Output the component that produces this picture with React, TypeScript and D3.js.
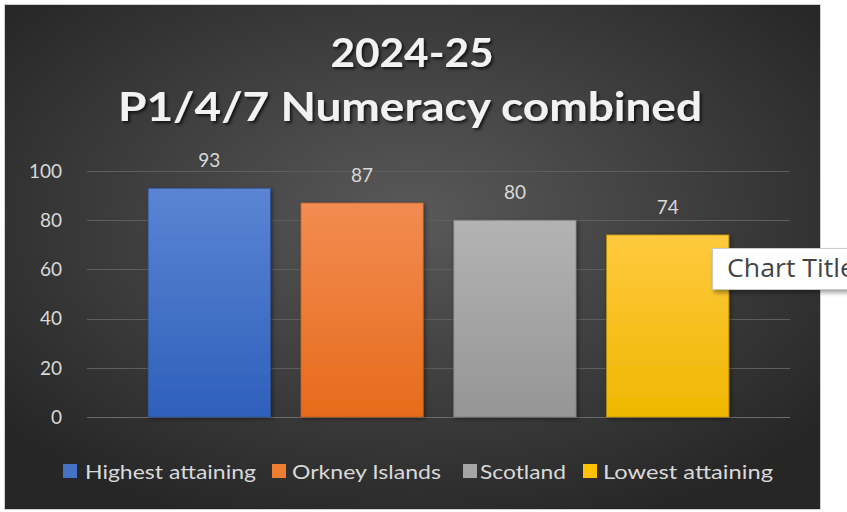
import React from 'react';
import * as d3 from 'd3';

// Chart data
const categories = ['Highest attaining', 'Orkney Islands', 'Scotland', 'Lowest attaining'];
const values = [93, 87, 80, 74];
const yTicks = [0, 20, 40, 60, 80, 100];
const titleLines = ['2024-25', 'P1/4/7 Numeracy combined'];

const W = 847;
const H = 512;

// series colours: legend swatch, gradient top, gradient bottom
const swatch = ['#4472c4', '#ed7d31', '#a5a5a5', '#ffc000'];
const gradTop = ['#5b84d3', '#f28c52', '#b3b3b3', '#ffc93f'];
const gradBottom = ['#2e60bb', '#e76b1b', '#959595', '#efb700'];
const strokeCol = ['#2c5295', '#b85f22', '#7c7c7c', '#bf9000'];

const App: React.FC = () => {
  const x = d3.scaleBand<string>()
    .domain(categories)
    .range([87, 790])
    .paddingInner(0.2)
    .paddingOuter(0.4);

  const y = d3.scaleLinear().domain([0, 100]).range([417, 171]);

  const font = 'Lato, "Open Sans", sans-serif';
  // legend layout
  const legendX = [63, 272, 463, 583];
  const legendTextX = [85, 292, 480, 603];
  const legendW = [171, 149, 86, 170];

  return (
    <svg width={W} height={H} style={{ position: 'absolute', left: 0, top: 0, background: '#fff' }}>
      <defs>
        <radialGradient id="bg" cx="50%" cy="42%" r="65%">
          <stop offset="0%" stopColor="#595959" />
          <stop offset="100%" stopColor="#262626" />
        </radialGradient>
        {categories.map((c, i) => (
          <linearGradient key={c} id={`bar${i}`} x1="0" y1="0" x2="0" y2="1">
            <stop offset="0%" stopColor={gradTop[i]} />
            <stop offset="100%" stopColor={gradBottom[i]} />
          </linearGradient>
        ))}
        <filter id="tshadow" x="-10%" y="-30%" width="120%" height="160%">
          <feDropShadow dx="2" dy="2" stdDeviation="1.5" floodColor="#000" floodOpacity="0.7" />
        </filter>
        <filter id="bshadow" x="-10%" y="-10%" width="130%" height="130%">
          <feDropShadow dx="1.5" dy="1.5" stdDeviation="2" floodColor="#000" floodOpacity="0.45" />
        </filter>
        <filter id="tipshadow" x="-10%" y="-20%" width="130%" height="160%">
          <feDropShadow dx="2" dy="3" stdDeviation="2" floodColor="#000" floodOpacity="0.35" />
        </filter>
      </defs>

      {/* chart area */}
      <rect x={4.5} y={4.5} width={816} height={505} fill="url(#bg)" stroke="#d0d0d0" strokeWidth={1} />

      {/* title */}
      <g fill="#f2f2f2" fontFamily={font} fontWeight={700} textAnchor="middle" filter="url(#tshadow)">
        <text x={412} y={67} fontSize={40} textLength={163} lengthAdjust="spacingAndGlyphs">{titleLines[0]}</text>
        <text x={410} y={121} fontSize={40} textLength={584} lengthAdjust="spacingAndGlyphs">{titleLines[1]}</text>
      </g>

      {/* gridlines */}
      {yTicks.map(t => (
        <line key={t} x1={87} x2={790} y1={Math.round(y(t)) + 0.5} y2={Math.round(y(t)) + 0.5}
          stroke={t === 0 ? '#6a6a6a' : '#5e5e5e'} strokeWidth={1} />
      ))}

      {/* y tick labels */}
      {yTicks.map(t => (
        <text key={t} x={62} y={y(t)} dy="0.36em" textAnchor="end" fontFamily={font}
          fontSize={19} fill="#d9d9d9">{t}</text>
      ))}

      {/* bars */}
      {categories.map((c, i) => (
        <rect key={c} x={x(c)} y={y(values[i])} width={x.bandwidth()} height={y(0) - y(values[i])}
          fill={`url(#bar${i})`} stroke={strokeCol[i]} strokeWidth={0.75} filter="url(#bshadow)" />
      ))}

      {/* data labels */}
      {categories.map((c, i) => (
        <text key={c} x={(x(c) ?? 0) + x.bandwidth() / 2} y={y(values[i]) - 21} textAnchor="middle"
          fontFamily={font} fontSize={19} fill="#d9d9d9">{values[i]}</text>
      ))}

      {/* legend */}
      {categories.map((c, i) => (
        <g key={c}>
          <rect x={legendX[i]} y={464} width={14} height={14} fill={swatch[i]} />
          <text x={legendTextX[i]} y={479} fontFamily={font} fontSize={19} fill="#d9d9d9"
            textLength={legendW[i]} lengthAdjust="spacingAndGlyphs">{c}</text>
        </g>
      ))}

      {/* hover tooltip */}
      <g filter="url(#tipshadow)">
        <rect x={712.5} y={248.5} width={150} height={41} fill="#ffffff" stroke="#c8c8c8" strokeWidth={1} />
      </g>
      <text x={727} y={277} fontFamily={'"Open Sans", "Noto Sans", sans-serif'} fontSize={25} fill="#444"
        textLength={128} lengthAdjust="spacingAndGlyphs">Chart Title</text>
    </svg>
  );
};

export default App;
